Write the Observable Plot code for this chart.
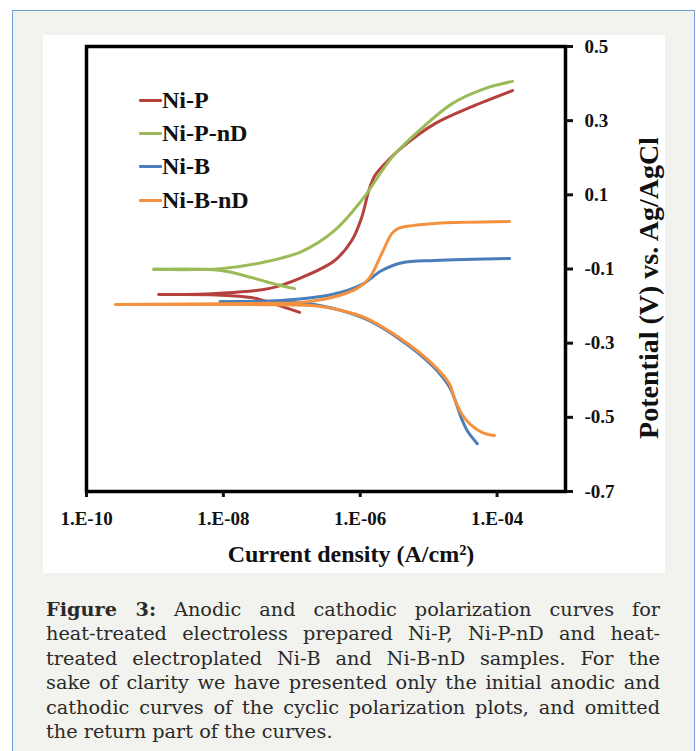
<!DOCTYPE html>
<html>
<head>
<meta charset="utf-8">
<script src="https://cdn.jsdelivr.net/npm/d3@7"></script>
<script src="https://cdn.jsdelivr.net/npm/@observablehq/plot@0.6"></script>
<style>
  html, body { margin: 0; padding: 0; background: #ffffff; width: 696px; height: 751px; overflow: hidden; }
  #box { position: absolute; left: 12px; top: 10px; width: 681px; height: 780px; border: 1px solid #6f9fd6; background: #f2f3ee; }
  #chart { position: absolute; left: 43px; top: 35px; width: 622px; height: 538px; background: #ffffff; }
  #chart svg { display: block; overflow: visible; }
  .leg { position: absolute; font-family: "Liberation Serif", "Times New Roman", serif; font-weight: bold; font-size: 24px; line-height: 24px; color: #111; white-space: nowrap; }
  .sw { position: absolute; height: 3px; width: 23px; border-radius: 1px; }
  #caption { position: absolute; left: 46px; top: 598px; width: 614px; font-family: "DejaVu Serif", serif; font-size: 19.3px; line-height: 24.4px; color: #2a2a2a; }
  #caption span { display: block; text-align: justify; text-align-last: justify; white-space: nowrap; }
  #caption span.last { text-align-last: left; }
</style>
</head>
<body>
<div id="box"></div>
<div id="chart"></div>
<div id="legend"></div>
<div id="caption"></div>
<script>
// ---------- data (current density in A/cm², potential in V vs Ag/AgCl) ----------
const samples = ["Ni-P", "Ni-P-nD", "Ni-B", "Ni-B-nD"];
const colors = ["#b5403e", "#9bbb59", "#4a7ebb", "#f4913f"];

const niP_anodic_I   = [1.14e-9, 7.83e-9, 4.55e-8, 1.39e-7, 4.24e-7, 7.53e-7, 1.05e-6, 1.34e-6, 1.64e-6, 2.30e-6, 4.08e-6, 1.24e-5, 3.94e-5, 1.68e-4];
const niP_anodic_E   = [-0.169, -0.166, -0.153, -0.123, -0.077, -0.023, 0.039, 0.112, 0.152, 0.184, 0.228, 0.292, 0.335, 0.381];
const niP_cathodic_I = [1.14e-9, 7.83e-9, 2.56e-8, 5.96e-8, 1.30e-7];
const niP_cathodic_E = [-0.169, -0.170, -0.177, -0.196, -0.217];

const niPnD_anodic_I   = [9.64e-10, 9.29e-9, 3.59e-8, 1.39e-7, 4.24e-7, 1.05e-6, 2.91e-6, 7.26e-6, 2.21e-5, 6.76e-5, 1.68e-4];
const niPnD_anodic_E   = [-0.101, -0.099, -0.083, -0.053, 0.004, 0.085, 0.201, 0.273, 0.346, 0.387, 0.406];
const niPnD_cathodic_I = [9.64e-10, 9.29e-9, 2.56e-8, 5.96e-8, 1.10e-7];
const niPnD_cathodic_E = [-0.101, -0.104, -0.123, -0.142, -0.153];

const niB_anodic_I   = [8.97e-9, 7.06e-8, 3.83e-7, 1.05e-6, 2.07e-6, 4.08e-6, 1.24e-5, 1.52e-4];
const niB_anodic_E   = [-0.188, -0.185, -0.169, -0.142, -0.104, -0.083, -0.077, -0.072];
const niB_cathodic_I = [8.97e-9, 7.06e-8, 2.15e-7, 1.17e-6, 3.69e-6, 1.12e-5, 2.00e-5, 2.45e-5, 2.90e-5, 3.67e-5, 5.15e-5];
const niB_cathodic_E = [-0.188, -0.189, -0.196, -0.234, -0.288, -0.360, -0.417, -0.455, -0.495, -0.536, -0.571];

const niBnD_anodic_I   = [2.67e-10, 2.56e-8, 1.39e-7, 3.83e-7, 8.91e-7, 1.34e-6, 2.07e-6, 2.91e-6, 3.56e-6, 5.73e-6, 1.24e-5, 1.52e-4];
const niBnD_anodic_E   = [-0.196, -0.193, -0.190, -0.177, -0.153, -0.126, -0.058, -0.004, 0.009, 0.017, 0.023, 0.028];
const niBnD_cathodic_I = [2.67e-10, 2.56e-8, 2.15e-7, 5.37e-7, 1.17e-6, 3.69e-6, 1.12e-5, 2.00e-5, 2.45e-5, 3.10e-5, 4.06e-5, 6.11e-5, 9.16e-5];
const niBnD_cathodic_E = [-0.196, -0.196, -0.199, -0.212, -0.231, -0.285, -0.355, -0.409, -0.455, -0.493, -0.519, -0.541, -0.549];

const xTicks = [1e-10, 1e-8, 1e-6, 1e-4];
const xTickLabels = ["1.E-10", "1.E-08", "1.E-06", "1.E-04"];
const yTicks = [-0.7, -0.5, -0.3, -0.1, 0.1, 0.3, 0.5];
const yTickLabels = ["-0.7", "-0.5", "-0.3", "-0.1", "0.1", "0.3", "0.5"];
const xLabel = "Current density (A/cm²)";
const yLabel = "Potential (V) vs. Ag/AgCl";

// ---------- build table ----------
const branches = [
  ["Ni-P", "anodic", niP_anodic_I, niP_anodic_E],
  ["Ni-P", "cathodic", niP_cathodic_I, niP_cathodic_E],
  ["Ni-P-nD", "anodic", niPnD_anodic_I, niPnD_anodic_E],
  ["Ni-P-nD", "cathodic", niPnD_cathodic_I, niPnD_cathodic_E],
  ["Ni-B", "anodic", niB_anodic_I, niB_anodic_E],
  ["Ni-B", "cathodic", niB_cathodic_I, niB_cathodic_E],
  ["Ni-B-nD", "anodic", niBnD_anodic_I, niBnD_anodic_E],
  ["Ni-B-nD", "cathodic", niBnD_cathodic_I, niBnD_cathodic_E]
];
const rows = [];
for (const [sample, branch, I, E] of branches) {
  I.forEach((v, i) => rows.push({sample, key: sample + " " + branch, I: v, E: E[i]}));
}

const serif = "'Liberation Serif', 'Times New Roman', Times, serif";

const chart = Plot.plot({
  width: 622,
  height: 538,
  marginLeft: 43,
  marginRight: 100,
  marginTop: 11,
  marginBottom: 82,
  style: {fontFamily: serif, fontWeight: "bold", fontSize: "19px", color: "#111", background: "transparent", overflow: "visible"},
  x: {type: "log", domain: [1e-10, 1e-3]},
  y: {domain: [-0.7, 0.5]},
  color: {domain: samples, range: colors},
  marks: [
    Plot.line(rows, {x: "I", y: "E", z: "key", stroke: "sample", strokeWidth: 3, curve: "catmull-rom", strokeLinecap: "round"}),
    Plot.frame({stroke: "#000", strokeWidth: 3.5}),
    Plot.axisX({ticks: xTicks, tickFormat: d => xTickLabels[xTicks.indexOf(d)], tickSize: 6, tickPadding: 14, strokeWidth: 3, fontSize: 19, fontWeight: "bold", label: null}),
    Plot.axisY({anchor: "right", ticks: yTicks, tickFormat: d => yTickLabels[yTicks.findIndex(t => Math.abs(t - d) < 1e-9)], tickSize: 7, tickPadding: 12, strokeWidth: 3, fontSize: 19, fontWeight: "bold", label: null}),
    Plot.text([xLabel], {frameAnchor: "bottom", dx: 25, dy: 63, fontSize: 24, fontWeight: "bold", fill: "#111", textAnchor: "middle", lineAnchor: "middle"}),
    Plot.text([yLabel], {frameAnchor: "right", dx: 84, dy: 19, rotate: -90, fontSize: 28, fontWeight: "bold", fill: "#111", textAnchor: "middle", lineAnchor: "middle"})
  ]
});
document.getElementById("chart").appendChild(chart);

// ---------- legend ----------
const legend = document.getElementById("legend");
const legendRows = [100, 133, 166, 200];
samples.forEach((s, i) => {
  const sw = document.createElement("div");
  sw.className = "sw";
  sw.style.left = "139px";
  sw.style.top = (legendRows[i] - 1.5) + "px";
  sw.style.background = colors[i];
  legend.appendChild(sw);
  const t = document.createElement("div");
  t.className = "leg";
  t.style.left = "162px";
  t.style.top = (legendRows[i] - 12) + "px";
  t.textContent = s;
  legend.appendChild(t);
});

// ---------- caption ----------
const captionLines = [
  "<b>Figure 3:</b> Anodic and cathodic polarization curves for",
  "heat-treated electroless prepared Ni-P, Ni-P-nD and heat-",
  "treated electroplated Ni-B and Ni-B-nD samples. For the",
  "sake of clarity we have presented only the initial anodic and",
  "cathodic curves of the cyclic polarization plots, and omitted",
  "the return part of the curves."
];
document.getElementById("caption").innerHTML = captionLines.map((l, i) =>
  `<span${i === captionLines.length - 1 ? ' class="last"' : ''}>${l}</span>`).join("");
</script>
</body>
</html>
